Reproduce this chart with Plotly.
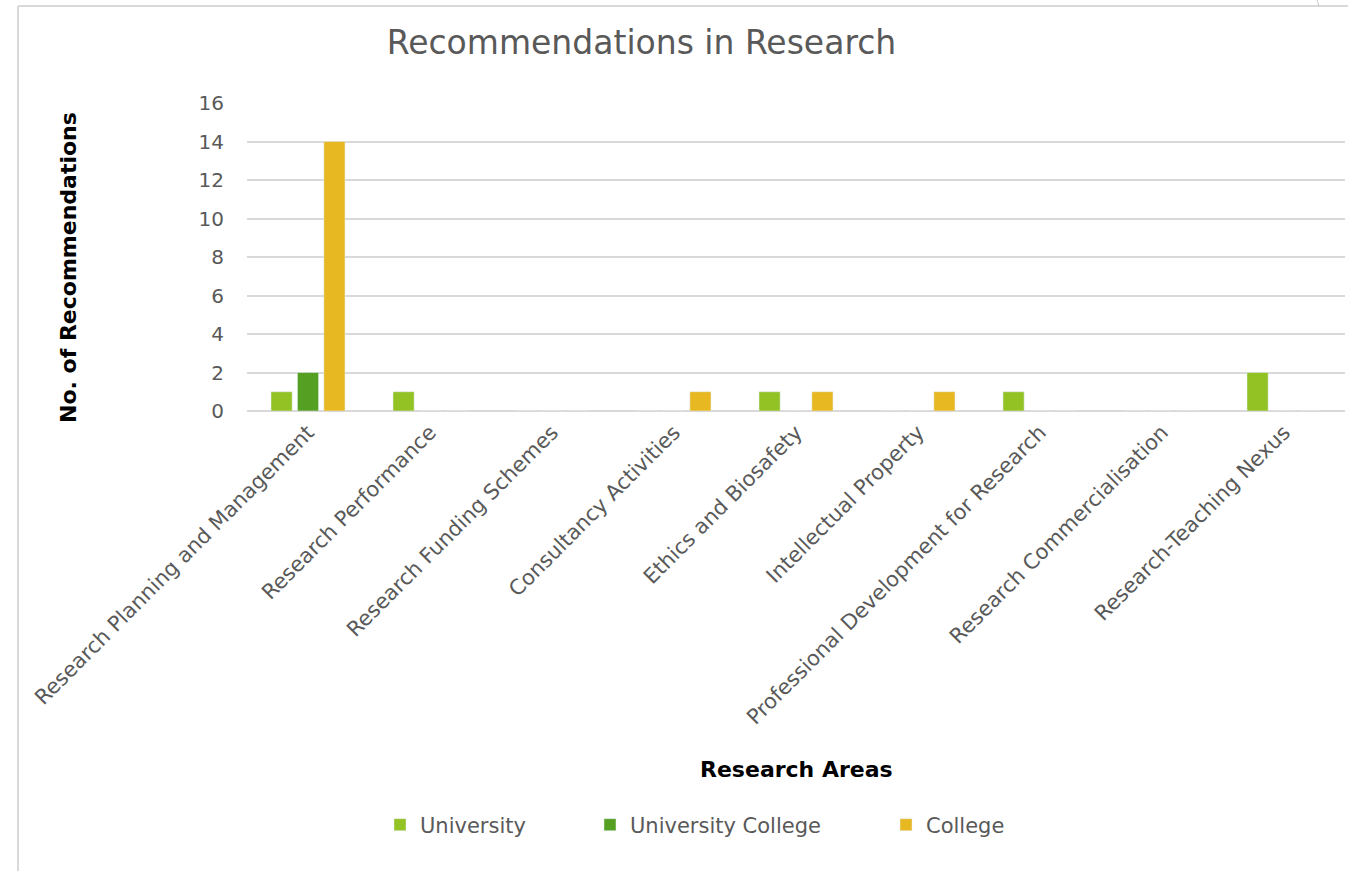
import plotly.graph_objects as go

categories = ["Research Planning and Management", "Research Performance", "Research Funding Schemes",
              "Consultancy Activities", "Ethics and Biosafety", "Intellectual Property",
              "Professional Development for Research", "Research Commercialisation",
              "Research-Teaching Nexus"]
university = [1, 1, 0, 0, 1, 0, 1, 0, 2]
university_college = [2, 0, 0, 0, 0, 0, 0, 0, 0]
college = [14, 0, 0, 1, 1, 1, 0, 0, 0]
y_ticks = [0, 2, 4, 6, 8, 10, 12, 14, 16]

FONT = "DejaVu Sans"
GRAY = "#595959"

W, H = 1348, 871
L, R, T, B = 247, 3, 103, 460
PW, PH = W - L - R, H - T - B


def px_x(x):
    return (x - L) / PW


def px_y(y):
    return (H - B - y) / PH


fig = go.Figure()
fig.add_trace(go.Bar(name="University", x=categories, y=university, marker_color="#93C225",
                     legend="legend"))
fig.add_trace(go.Bar(name="University College", x=categories, y=university_college,
                     marker_color="#55A022", legend="legend2"))
fig.add_trace(go.Bar(name="College", x=categories, y=college, marker_color="#E7B822",
                     legend="legend3"))

leg_common = dict(orientation="h", xref="container", xanchor="left", yref="container",
                  yanchor="middle", y=1 - 825 / H, bgcolor="rgba(0,0,0,0)", borderwidth=0,
                  font=dict(family=FONT, size=21, color=GRAY))

fig.update_layout(
    width=W, height=H,
    margin=dict(l=L, r=R, t=T, b=B, autoexpand=False),
    paper_bgcolor="white", plot_bgcolor="white",
    barmode="group", bargap=0.35, bargroupgap=0.2,
    font=dict(family=FONT, color=GRAY, size=21),
    title=dict(text="Recommendations in Research", x=641.5 / W, xref="container", xanchor="center",
               y=1 - 42 / H, yref="container", yanchor="middle",
               font=dict(family=FONT, size=33, color=GRAY)),
    legend=dict(x=380 / W, **leg_common),
    legend2=dict(x=590 / W, **leg_common),
    legend3=dict(x=886 / W, **leg_common),
    showlegend=True,
)
fig.update_xaxes(tickangle=-45, showgrid=False, showline=False, ticks="", ticklabelstandoff=4,
                 tickfont=dict(family=FONT, size=21, color=GRAY))
fig.update_yaxes(range=[0, 16], tickvals=y_ticks, showgrid=True, gridcolor="#D9D9D9", gridwidth=1.5,
                 zeroline=True, zerolinecolor="#D9D9D9", zerolinewidth=2, showline=False,
                 ticks="", ticklabelstandoff=22, tickfont=dict(family=FONT, size=20, color=GRAY))

fig.add_annotation(text="<b>No. of Recommendations</b>", xref="paper", yref="paper",
                   x=px_x(68), y=px_y(268), textangle=-90, showarrow=False,
                   xanchor="center", yanchor="middle",
                   font=dict(family=FONT, size=22, color="black"))
fig.add_annotation(text="<b>Research Areas</b>", xref="paper", yref="paper",
                   x=px_x(796), y=px_y(769), showarrow=False, xanchor="center", yanchor="middle",
                   font=dict(family=FONT, size=22, color="black"))

# chart frame
FRAME = dict(color="#D9D9D9", width=2)
fig.add_shape(type="line", xref="paper", yref="paper", x0=px_x(18), x1=px_x(18),
              y0=px_y(871), y1=px_y(6), line=FRAME)
fig.add_shape(type="line", xref="paper", yref="paper", x0=px_x(18), x1=px_x(1348),
              y0=px_y(6), y1=px_y(6), line=FRAME)
fig.add_shape(type="line", xref="paper", yref="paper", x0=px_x(1317), x1=px_x(1319),
              y0=px_y(0), y1=px_y(6), line=dict(color="#C8C8C8", width=1))

fig.write_html("out.html", config={"displayModeBar": False},
               post_script="document.body.style.margin='0';")
